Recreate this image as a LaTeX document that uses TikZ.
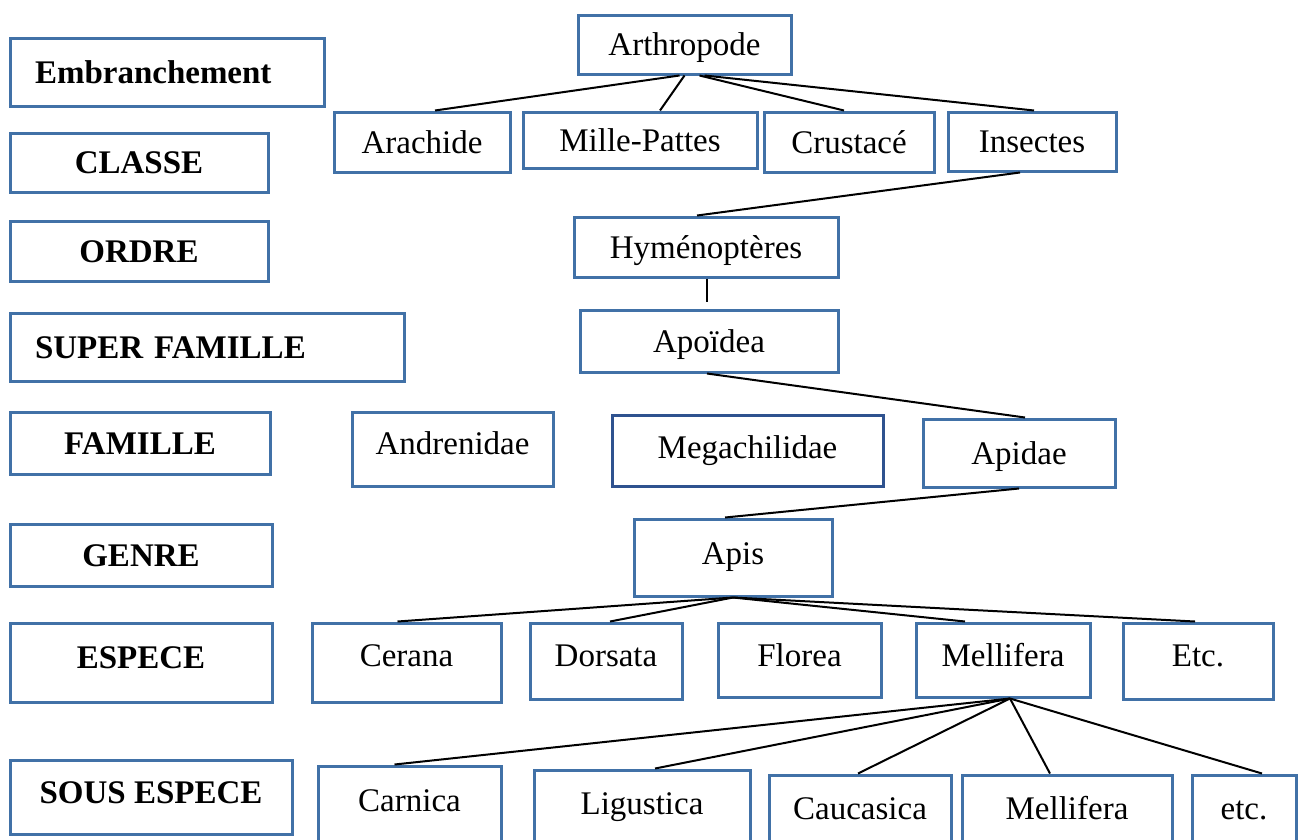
\documentclass[tikz,border=0pt]{standalone}
\usepackage{fontspec}
\setmainfont{Liberation Serif}

\definecolor{rankblue}{RGB}{65,113,167}
\definecolor{darkblue}{RGB}{47,82,143}

\tikzset{
  taxon/.style = {rectangle, draw=rankblue, line width=3pt, inner sep=0pt,
                  text height=22pt, text depth=0pt, font=\fontsize{33}{40}\selectfont},
  rank/.style  = {taxon, font=\fontsize{33}{40}\selectfont\bfseries},
  link/.style  = {line width=2pt, draw=black}
}

\begin{document}
\begin{tikzpicture}[x=1pt, y=-1pt]
   \useasboundingbox (0,0) rectangle (1298,839);

   \node[rank, minimum width=314pt, minimum height=68pt, text width=264pt, align=left] (emb) at (167,72) {Embranchement};
   \node[rank, minimum width=258pt, minimum height=59pt] (classe) at (139,162.5) {CLASSE};
   \node[rank, minimum width=258pt, minimum height=60pt] (ordre) at (139,251) {ORDRE};
   \node[rank, minimum width=394pt, minimum height=68pt, text width=344pt, align=left] (superfam) at (207,347) {SUPER FAMILLE};
   \node[rank, minimum width=260pt, minimum height=62pt] (famille) at (140,443) {FAMILLE};
   \node[rank, minimum width=262pt, minimum height=62pt] (genre) at (141,555) {GENRE};
   \node[rank, minimum width=262pt, minimum height=79pt, text depth=11pt] (espece) at (141,662.5) {ESPECE};
   \node[rank, minimum width=282pt, minimum height=74pt, text depth=10pt] (sousesp) at (151,797) {SOUS ESPECE};

   \node[taxon, minimum width=213pt, minimum height=59pt] (arthropode) at (684.5,44.5) {Arthropode};
   \node[taxon, minimum width=176pt, minimum height=60pt] (arachide) at (422,142) {Arachide};
   \node[taxon, minimum width=234pt, minimum height=56pt] (millepattes) at (640,140) {Mille-Pattes};
   \node[taxon, minimum width=170pt, minimum height=60pt] (crustace) at (849,142) {Crustacé};
   \node[taxon, minimum width=168pt, minimum height=59pt] (insectes) at (1032,141.5) {Insectes};
   \node[taxon, minimum width=264pt, minimum height=60pt] (hymeno) at (706,247) {Hyménoptères};
   \node[taxon, minimum width=258pt, minimum height=62pt] (apoidea) at (709,341) {Apoïdea};
   \node[taxon, minimum width=201pt, minimum height=74pt, text depth=12pt] (andrenidae) at (452.5,449) {Andrenidae};
   \node[taxon, draw=darkblue, minimum width=271pt, minimum height=71pt, text depth=7pt] (megachilidae) at (747.5,450.5) {Megachilidae};
   \node[taxon, minimum width=192pt, minimum height=68pt] (apidae) at (1019,453) {Apidae};
   \node[taxon, minimum width=198pt, minimum height=77pt, text depth=9pt] (apis) at (733,557.5) {Apis};
   \node[taxon, minimum width=189pt, minimum height=79pt, text depth=15pt] (cerana) at (406.5,662.5) {Cerana};
   \node[taxon, minimum width=152pt, minimum height=76pt, text depth=12pt] (dorsata) at (606,661) {Dorsata};
   \node[taxon, minimum width=163pt, minimum height=74pt, text depth=10pt] (florea) at (799.5,660) {Florea};
   \node[taxon, minimum width=174pt, minimum height=74pt, text depth=10pt] (mellifera) at (1003,660) {Mellifera};
   \node[taxon, minimum width=150pt, minimum height=76pt, text depth=12pt] (etc) at (1198,661) {Etc.};
   \node[taxon, minimum width=183pt, minimum height=84pt, text depth=16pt] (carnica) at (409.5,808) {Carnica};
   \node[taxon, minimum width=216pt, minimum height=80pt, text depth=14pt] (ligustica) at (642,810) {Ligustica};
   \node[taxon, minimum width=182pt, minimum height=75pt, text depth=9pt] (caucasica) at (860,812.5) {Caucasica};
   \node[taxon, minimum width=210pt, minimum height=75pt, text depth=9pt] (mellifera2) at (1067,812.5) {Mellifera};
   \node[taxon, minimum width=104pt, minimum height=75pt, text depth=9pt] (etcb) at (1244,812.5) {etc.};

   \draw[link] ([xshift=-5pt]arthropode.south) -- ([xshift=13pt]arachide.north);
   \draw[link] (arthropode.south) -- ([xshift=20pt]millepattes.north);
   \draw[link] ([xshift=15pt]arthropode.south) -- ([xshift=-5pt]crustace.north);
   \draw[link] ([xshift=20pt]arthropode.south) -- ([xshift=2pt]insectes.north);

   \draw[link] ([xshift=-12pt]insectes.south) -- ([xshift=-9pt]hymeno.north);
   \draw[link, shorten >=7pt] ([xshift=1pt]hymeno.south) -- ([xshift=1pt]hymeno.south |- apoidea.north);
   \draw[link] ([xshift=-2pt]apoidea.south) -- ([xshift=6pt]apidae.north);
   \draw[link] (apidae.south) -- ([xshift=-8pt]apis.north);

   \draw[link] (apis.south) -- ([xshift=-9pt]cerana.north);
   \draw[link] (apis.south) -- ([xshift=4pt]dorsata.north);
   \draw[link] (apis.south) -- ([xshift=-38pt]mellifera.north);
   \draw[link] (apis.south) -- ([xshift=-3pt]etc.north);

   \draw[link] ([xshift=7pt]mellifera.south) -- ([xshift=-15pt]carnica.north);
   \draw[link] ([xshift=7pt]mellifera.south) -- ([xshift=13pt]ligustica.north);
   \draw[link] ([xshift=7pt]mellifera.south) -- ([xshift=-2pt]caucasica.north);
   \draw[link] ([xshift=7pt]mellifera.south) -- ([xshift=-17pt]mellifera2.north);
   \draw[link] ([xshift=7pt]mellifera.south) -- ([xshift=18pt]etcb.north);
\end{tikzpicture}
\end{document}
